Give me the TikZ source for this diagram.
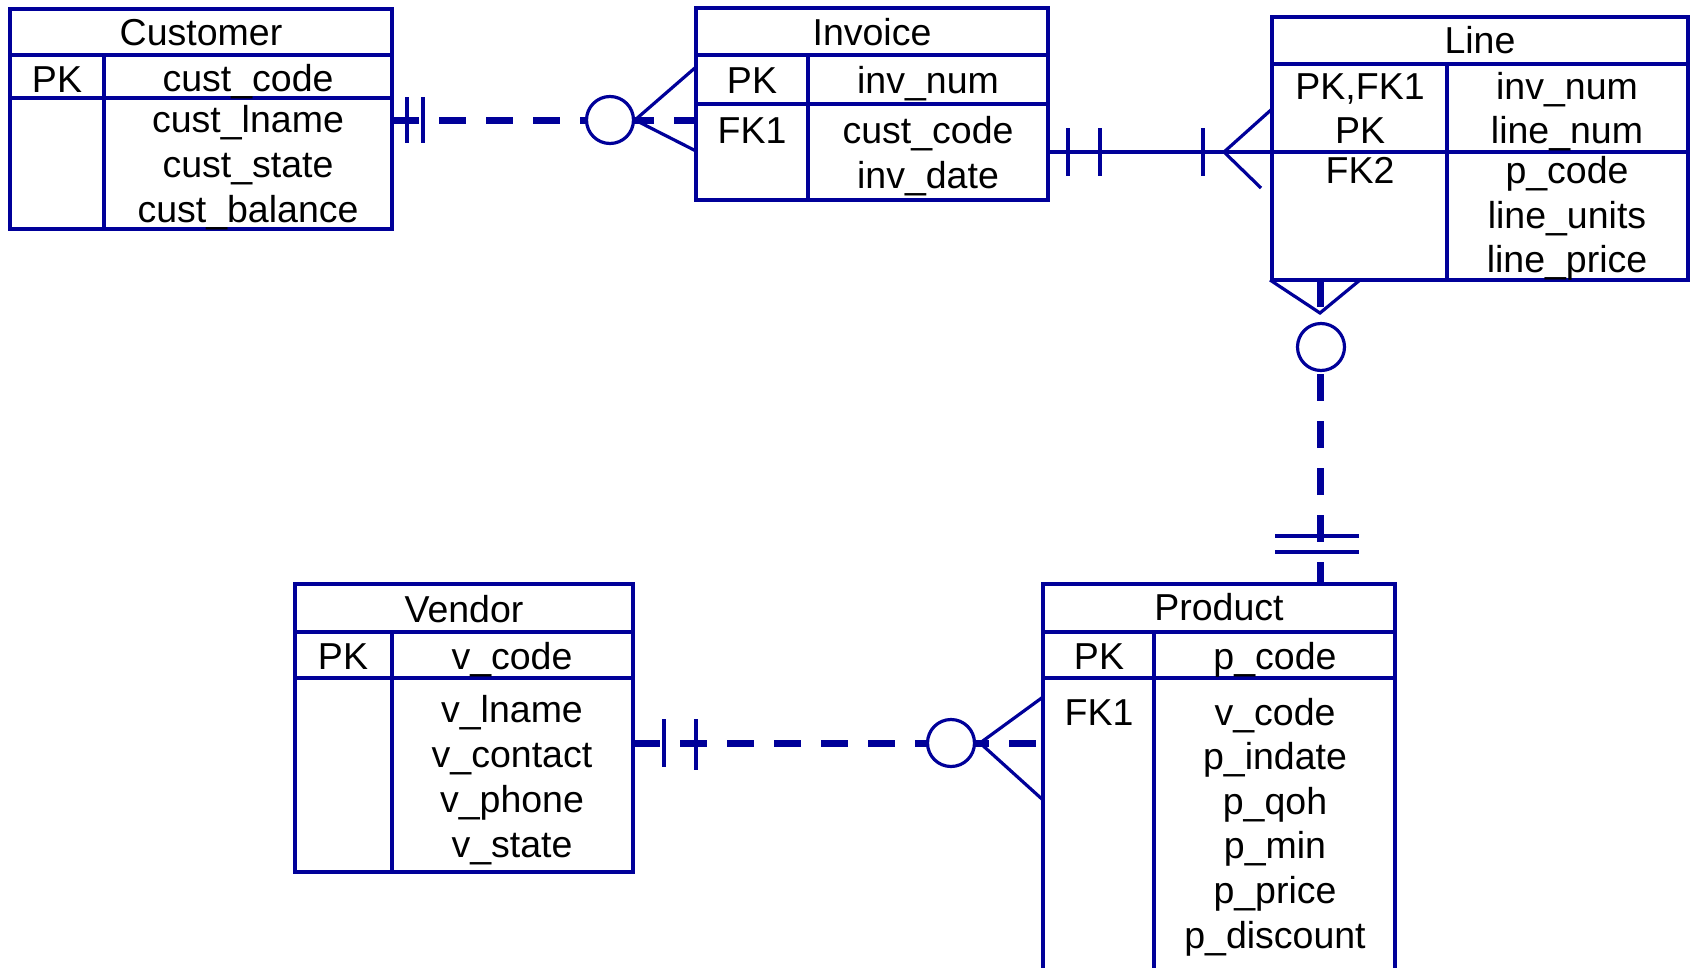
\documentclass[tikz,border=0pt]{standalone}
\usepackage{fontspec}
\setmainfont{Liberation Sans}
\usepackage{tikz}
\usetikzlibrary{fit,calc}
\definecolor{erblue}{HTML}{000099}

\begin{document}
\begin{tikzpicture}[x=1pt,y=-1pt,
    tbl/.style={draw=erblue,line width=3.6pt,inner sep=0pt,outer sep=0pt},
    sep/.style={draw=erblue,line width=3.6pt},
    lbl/.style={anchor=base,inner sep=0pt,font=\fontsize{37.5}{45}\selectfont},
    rel/.style={draw=erblue,line width=7pt,dash pattern=on 27pt off 20pt},
    thin/.style={draw=erblue,line width=3.2pt},
    ring/.style={circle,draw=erblue,line width=3.2pt,fill=white,minimum size=47pt,inner sep=0pt}
  ]
    \clip (0,0) rectangle (1690,967);

    % tables
    \node[tbl,fit={(10,9)(392,229)}] (customer) {};
    \draw[sep] (10,55) -- (392,55) (10,98) -- (392,98) (104,55) -- (104,229);
    \node[lbl] (customer-name) at (201,45) {Customer};
    \node[lbl] (customer-pk) at (57,92) {PK};
    \node[lbl] (customer-key) at (248,91) {cust\_code};
    \foreach \a [count=\i] in {cust\_lname,cust\_state,cust\_balance}
      \node[lbl] (customer-\i) at (248,87+45*\i) {\a};

    \node[tbl,fit={(696,8)(1048,200)}] (invoice) {};
    \draw[sep] (696,55) -- (1048,55) (696,104) -- (1048,104) (808,55) -- (808,200);
    \node[lbl] (invoice-name) at (872,45) {Invoice};
    \node[lbl] (invoice-pk) at (752,93) {PK};
    \node[lbl] (invoice-key) at (928,93) {inv\_num};
    \node[lbl] (invoice-fk) at (752,143) {FK1};
    \node[lbl] (invoice-1) at (928,143) {cust\_code};
    \node[lbl] (invoice-2) at (928,188) {inv\_date};

    \node[tbl,fit={(1272,17)(1688,280)}] (line) {};
    \draw[sep] (1272,64) -- (1688,64) (1272,152) -- (1688,152) (1447,64) -- (1447,280);
    \node[lbl] (line-name) at (1480,53) {Line};
    \node[lbl] (line-pk1) at (1360,99) {PK,FK1};
    \node[lbl] (line-pk2) at (1360,143) {PK};
    \node[lbl] (line-fk) at (1360,183) {FK2};
    \node[lbl] (line-key1) at (1567,99) {inv\_num};
    \node[lbl] (line-key2) at (1567,143) {line\_num};
    \foreach \a [count=\i] in {p\_code,line\_units,line\_price}
      \node[lbl] (line-\i) at (1567,139+44.5*\i) {\a};

    \node[tbl,fit={(295,584)(633,872)}] (vendor) {};
    \draw[sep] (295,632) -- (633,632) (295,678) -- (633,678) (392,632) -- (392,872);
    \node[lbl] (vendor-name) at (464,622) {Vendor};
    \node[lbl] (vendor-pk) at (343,669) {PK};
    \node[lbl] (vendor-key) at (512,669) {v\_code};
    \foreach \a [count=\i] in {v\_lname,v\_contact,v\_phone,v\_state}
      \node[lbl] (vendor-\i) at (512,677+45*\i) {\a};

    \node[tbl,fit={(1043,584)(1395,990)}] (product) {};
    \draw[sep] (1043,632) -- (1395,632) (1043,678) -- (1395,678) (1154,632) -- (1154,990);
    \node[lbl] (product-name) at (1219,620) {Product};
    \node[lbl] (product-pk) at (1099,669) {PK};
    \node[lbl] (product-key) at (1275,669) {p\_code};
    \node[lbl] (product-fk) at (1099,725) {FK1};
    \foreach \a [count=\i] in {v\_code,p\_indate,p\_qoh,p\_min,p\_price,p\_discount}
      \node[lbl] (product-\i) at (1275,680.4+44.6*\i) {\a};

    % customer -- invoice
    \coordinate (ci1) at (customer.east |- 0,120);
    \coordinate (ci2) at (invoice.west |- 0,120);
    \draw[rel] (ci1) -- (ci2);
    \draw[thin] ($(ci1)+(15,-23)$) -- ++(0,46) ($(ci1)+(31,-23)$) -- ++(0,46);
    \draw[thin] ($(ci2)+(0,-53)$) -- ($(ci2)+(-61,0)$) -- ($(ci2)+(0,31)$);
    \node[ring] (ci-ring) at ($(ci2)+(-86,0)$) {};

    % invoice -- line
    \coordinate (il1) at (invoice.east |- 0,152);
    \coordinate (il2) at (line.west |- 0,152);
    \draw[thin] (il1) -- (il2);
    \draw[thin] ($(il1)+(20,-24)$) -- ++(0,48) ($(il1)+(52,-24)$) -- ++(0,48);
    \draw[thin] ($(il2)+(-69,-24)$) -- ++(0,48);
    \draw[thin] ($(il2)+(0,-43)$) -- ($(il2)+(-48,0)$) -- ($(il2)+(-11,36)$);

    % line -- product
    \coordinate (lp1) at (1320,0 |- line.south);
    \coordinate (lp2) at (1320,0 |- product.north);
    \draw[rel] (lp1) -- (lp2);
    \draw[thin] ($(lp1)+(-50,0)$) -- ($(lp1)+(0,33)$) -- ($(lp1)+(40,0)$);
    \node[ring] (lp-ring) at ($(lp1)+(1,67)$) {};
    \draw[thin] ($(lp2)+(-45,-48)$) -- ++(84,0) ($(lp2)+(-45,-32)$) -- ++(84,0);

    % vendor -- product
    \coordinate (vp1) at (vendor.east |- 0,743);
    \coordinate (vp2) at (product.west |- 0,743);
    \draw[rel] (vp1) -- (vp2);
    \draw[thin] ($(vp1)+(31,-24)$) -- ++(0,48) ($(vp1)+(63,-24)$) -- ++(0,51);
    \draw[thin] ($(vp2)+(0,-46)$) -- ($(vp2)+(-63,0)$) -- ($(vp2)+(0,57)$);
    \node[ring] (vp-ring) at ($(vp2)+(-92,0)$) {};
  \end{tikzpicture}
\end{document}
